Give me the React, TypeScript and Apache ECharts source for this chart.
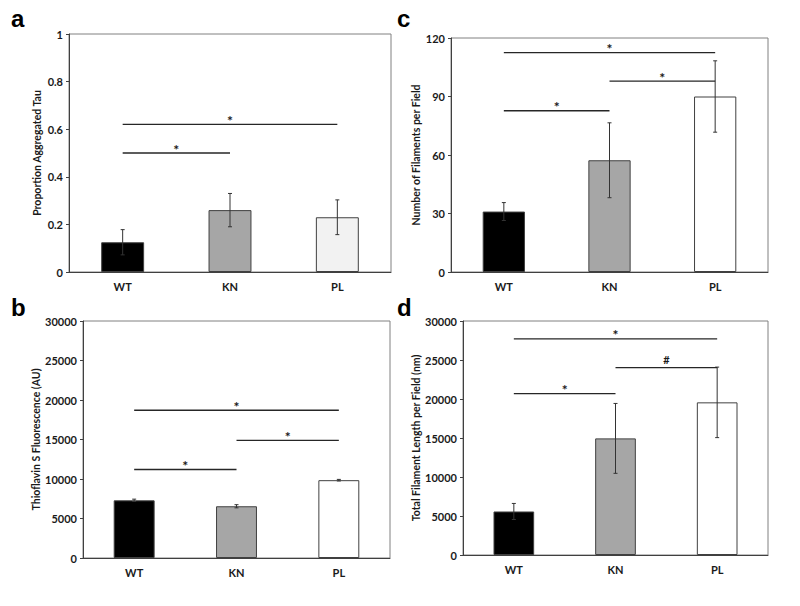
import React, { useEffect, useRef } from "react";
import * as echarts from "echarts";

const categories = ["WT", "KN", "PL"];

const aValues = [0.125, 0.26, 0.23];
const aErrors = [0.053, 0.07, 0.073];
const bValues = [7300, 6550, 9850];
const bErrors = [150, 200, 100];
const cValues = [31, 57.3, 90];
const cErrors = [4.6, 19.2, 18.3];
const dValues = [5580, 14950, 19570];
const dErrors = [1030, 4480, 4520];

// significance brackets: [from category, to category, height, mark]
const aSig: [number, number, number, string][] = [
  [0, 1, 0.5, "*"],
  [0, 2, 0.62, "*"],
];
const bSig: [number, number, number, string][] = [
  [0, 1, 11200, "*"],
  [1, 2, 14900, "*"],
  [0, 2, 18700, "*"],
];
const cSig: [number, number, number, string][] = [
  [0, 1, 82.7, "*"],
  [1, 2, 97.9, "*"],
  [0, 2, 112.5, "*"],
];
const dSig: [number, number, number, string][] = [
  [0, 1, 20700, "*"],
  [1, 2, 24030, "#"],
  [0, 2, 27710, "*"],
];

const aTicks = { min: 0, max: 1, interval: 0.2 };
const bTicks = { min: 0, max: 30000, interval: 5000 };
const cTicks = { min: 0, max: 120, interval: 30 };
const dTicks = { min: 0, max: 30000, interval: 5000 };

const aTitle = "Proportion Aggregated Tau";
const bTitle = "Thioflavin S Fluorescence (AU)";
const cTitle = "Number of Filaments per Field";
const dTitle = "Total Filament Length per Field (nm)";

const aColors = ["#000000", "#a6a6a6", "#f2f2f2"];
const otherColors = ["#000000", "#a6a6a6", "#ffffff"];

const FONT = "Lato, 'Open Sans', sans-serif";
const TEXT = "#1a1a1a";
const AXIS = "#404040";

export default function App() {
  const ref = useRef<HTMLDivElement>(null);

  useEffect(() => {
    if (!ref.current) return;
    const chart = echarts.init(ref.current, null, { renderer: "svg" });

    const grids = [
      { left: 69, top: 34, width: 322, height: 238 },
      { left: 83, top: 321, width: 307, height: 237 },
      { left: 451, top: 38, width: 317, height: 234 },
      { left: 463, top: 321, width: 305, height: 234 },
    ];
    const panels = [
      { values: aValues, errors: aErrors, sig: aSig, ticks: aTicks, title: aTitle, colors: aColors, gap: 27 },
      { values: bValues, errors: bErrors, sig: bSig, ticks: bTicks, title: bTitle, colors: otherColors, gap: 40 },
      { values: cValues, errors: cErrors, sig: cSig, ticks: cTicks, title: cTitle, colors: otherColors, gap: 26 },
      { values: dValues, errors: dErrors, sig: dSig, ticks: dTicks, title: dTitle, colors: otherColors, gap: 38 },
    ];

    const xAxis: any[] = [];
    const yAxis: any[] = [];
    const series: any[] = [];

    panels.forEach((p, i) => {
      xAxis.push({
        type: "category",
        gridIndex: i,
        data: categories,
        axisLine: { show: true, lineStyle: { color: AXIS, width: 1 } },
        axisTick: { show: false },
        axisLabel: { fontFamily: FONT, fontWeight: "bold", fontSize: 11, color: TEXT, margin: 9 },
        splitLine: { show: false },
      });
      yAxis.push({
        type: "value",
        gridIndex: i,
        min: p.ticks.min,
        max: p.ticks.max,
        interval: p.ticks.interval,
        name: p.title,
        nameLocation: "middle",
        nameRotate: 90,
        nameGap: p.gap,
        nameTextStyle: { fontFamily: FONT, fontWeight: "bold", fontSize: 10.5, color: TEXT },
        axisLine: { show: true, lineStyle: { color: AXIS, width: 1 } },
        axisTick: { show: true, inside: false, length: 3, lineStyle: { color: AXIS } },
        axisLabel: {
          fontFamily: FONT,
          fontWeight: "bold",
          fontSize: 11,
          color: TEXT,
          margin: 6,
          formatter: (v: number) => String(v),
        },
        splitLine: { show: false },
      });
      series.push({
        type: "bar",
        xAxisIndex: i,
        yAxisIndex: i,
        barWidth: "40%",
        data: p.values.map((v, k) => ({
          value: v,
          itemStyle: { color: p.colors[k], borderColor: AXIS, borderWidth: 1 },
        })),
      });
      series.push({
        type: "custom",
        xAxisIndex: i,
        yAxisIndex: i,
        z: 10,
        encode: { x: 0, y: [1, 2] },
        data: p.values.map((v, k) => [k, v - p.errors[k], v + p.errors[k]]),
        renderItem: (params: any, api: any) => {
          const x = api.value(0);
          const lo = api.coord([x, api.value(1)]);
          const hi = api.coord([x, api.value(2)]);
          const st = { stroke: "#333333", lineWidth: 1 };
          return {
            type: "group",
            children: [
              { type: "line", shape: { x1: lo[0], y1: lo[1], x2: hi[0], y2: hi[1] }, style: st },
              { type: "line", shape: { x1: hi[0] - 2, y1: hi[1], x2: hi[0] + 2, y2: hi[1] }, style: st },
              { type: "line", shape: { x1: lo[0] - 2, y1: lo[1], x2: lo[0] + 2, y2: lo[1] }, style: st },
            ],
          };
        },
      });
      series.push({
        type: "custom",
        xAxisIndex: i,
        yAxisIndex: i,
        z: 11,
        encode: { x: [0, 1], y: 2 },
        data: p.sig.map((s) => [s[0], s[1], s[2]]),
        renderItem: (params: any, api: any) => {
          const y = api.value(2);
          const p1 = api.coord([api.value(0), y]);
          const p2 = api.coord([api.value(1), y]);
          const mark = p.sig[params.dataIndex][3];
          const mid = (p1[0] + p2[0]) / 2;
          return {
            type: "group",
            children: [
              { type: "line", shape: { x1: p1[0], y1: p1[1], x2: p2[0], y2: p2[1] }, style: { stroke: "#262626", lineWidth: 1.3 } },
              {
                type: "text",
                x: mid,
                y: p1[1] - (mark === "#" ? 8 : 4),
                style: {
                  text: mark,
                  fill: TEXT,
                  font: `bold ${mark === "#" ? 11 : 14}px ${FONT}`,
                  align: "center",
                  verticalAlign: "middle",
                },
              },
            ],
          };
        },
      });
    });

    const letters = [
      { t: "a", x: 11, y: 18.5 },
      { t: "b", x: 11, y: 307.5 },
      { t: "c", x: 397, y: 18.5 },
      { t: "d", x: 397, y: 307.5 },
    ];

    chart.setOption({
      animation: false,
      backgroundColor: "#ffffff",
      grid: grids.map((g) => ({ ...g, show: true, borderColor: "#808080", borderWidth: 1, backgroundColor: "transparent" })),
      xAxis,
      yAxis,
      series,
      graphic: letters.map((l) => ({
        type: "text",
        x: l.x,
        y: l.y,
        style: {
          text: l.t,
          fill: "#000000",
          font: "bold 24px 'Liberation Sans', Arial, sans-serif",
          align: "left",
          verticalAlign: "middle",
        },
      })),
    });

    return () => chart.dispose();
  }, []);

  return (
    <div
      ref={ref}
      style={{ position: "fixed", left: 0, top: 0, width: 800, height: 606, background: "#fff" }}
    />
  );
}
